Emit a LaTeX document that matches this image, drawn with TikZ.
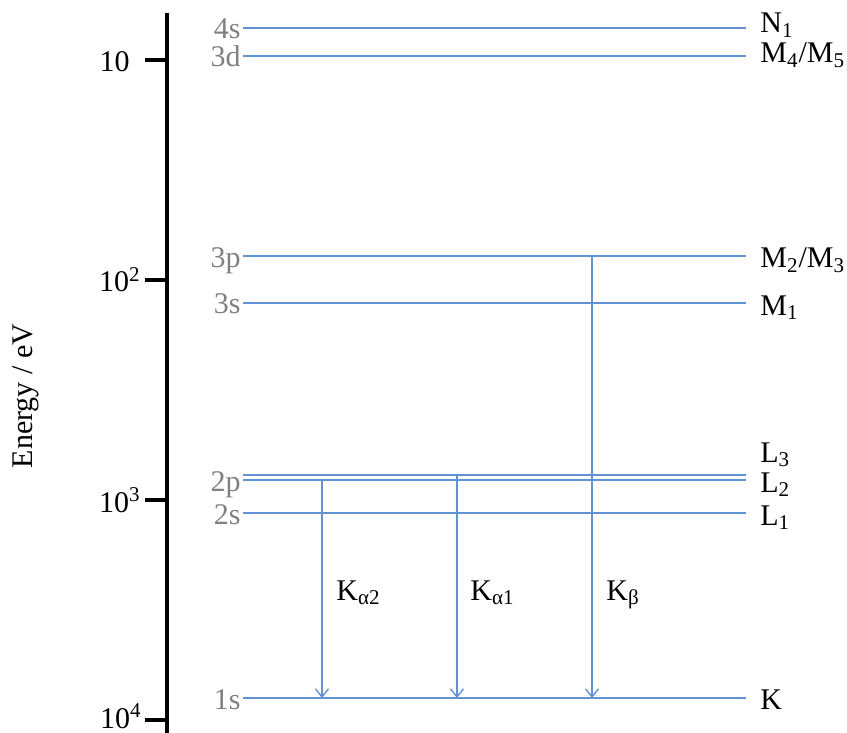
\documentclass[tikz,border=0pt]{standalone}
\usepackage{fontspec}
\setmainfont{Liberation Serif}
\usetikzlibrary{arrows.meta,positioning}
\definecolor{levelblue}{RGB}{96,146,212}
\definecolor{orbgray}{RGB}{128,128,128}
\tikzset{
  axisline/.style={line width=1.8pt, black},
  level/.style={draw=levelblue, line width=0.7pt},
  trans/.style={draw=levelblue, line width=0.7pt, -{Straight Barb[length=4pt,width=6.5pt]}},
  txt/.style={font=\fontsize{15}{18}\selectfont, inner sep=0pt},
  orb/.style={txt, text=orbgray, anchor=base east},
  shell/.style={txt, anchor=base west},
  ticklab/.style={txt, anchor=base east}
}

\begin{document}
\begin{tikzpicture}[x=0.5pt,y=-0.5pt]
  \useasboundingbox (0,0) rectangle (847,733);
  \draw[axisline] (167,13) -- (167,733);
  \foreach \n/\y/\x/\by/\lab in {1/60/130/72/10, 2/280/141/292/10\textsuperscript{2}, 3/500/141/512/10\textsuperscript{3}, 4/720/142/728/10\textsuperscript{4}}{
    \draw[axisline] (145,\y) -- (167,\y);
    \node[ticklab] (t\n) at (\x,\by) {\lab};
  }
  \node[txt, rotate=90] (elab) at (26,396) {Energy / eV};

  \foreach \n/\y/\orb/\shell/\sy in {
      n1/28/4s/{N\textsubscript{1}}/33,
      m45/56/3d/{M\textsubscript{4}/M\textsubscript{5}}/63,
      m23/256/3p/{M\textsubscript{2}/M\textsubscript{3}}/268,
      m1/303/3s/{M\textsubscript{1}}/315,
      l3/475//{L\textsubscript{3}}/462,
      l2/480/2p/{L\textsubscript{2}}/492,
      l1/513/2s/{L\textsubscript{1}}/525,
      k/698/1s/{K}/709}{
    \coordinate (\n-l) at (243,\y);
    \coordinate (\n-r) at (746,\y);
    \draw[level] (\n-l) -- (\n-r);
    \node[orb] (\n-o) at (241,\y+11) {\orb};
    \node[shell] (\n-s) at (760,\sy) {\shell};
  }

  \coordinate (a2-top) at (322,480);
  \coordinate (a2-bot) at (322,698);
  \coordinate (a1-top) at (457,475);
  \coordinate (a1-bot) at (457,698);
  \coordinate (b-top) at (592,256);
  \coordinate (b-bot) at (592,698);
  \draw[trans] (a2-top) -- (a2-bot);
  \draw[trans] (a1-top) -- (a1-bot);
  \draw[trans] (b-top) -- (b-bot);
  \node[shell] (ka2) at (336,600) {K\textsubscript{α2}};
  \node[shell] (ka1) at (470,600) {K\textsubscript{α1}};
  \node[shell] (kb) at (606,600) {K\textsubscript{β}};
\end{tikzpicture}
\end{document}
